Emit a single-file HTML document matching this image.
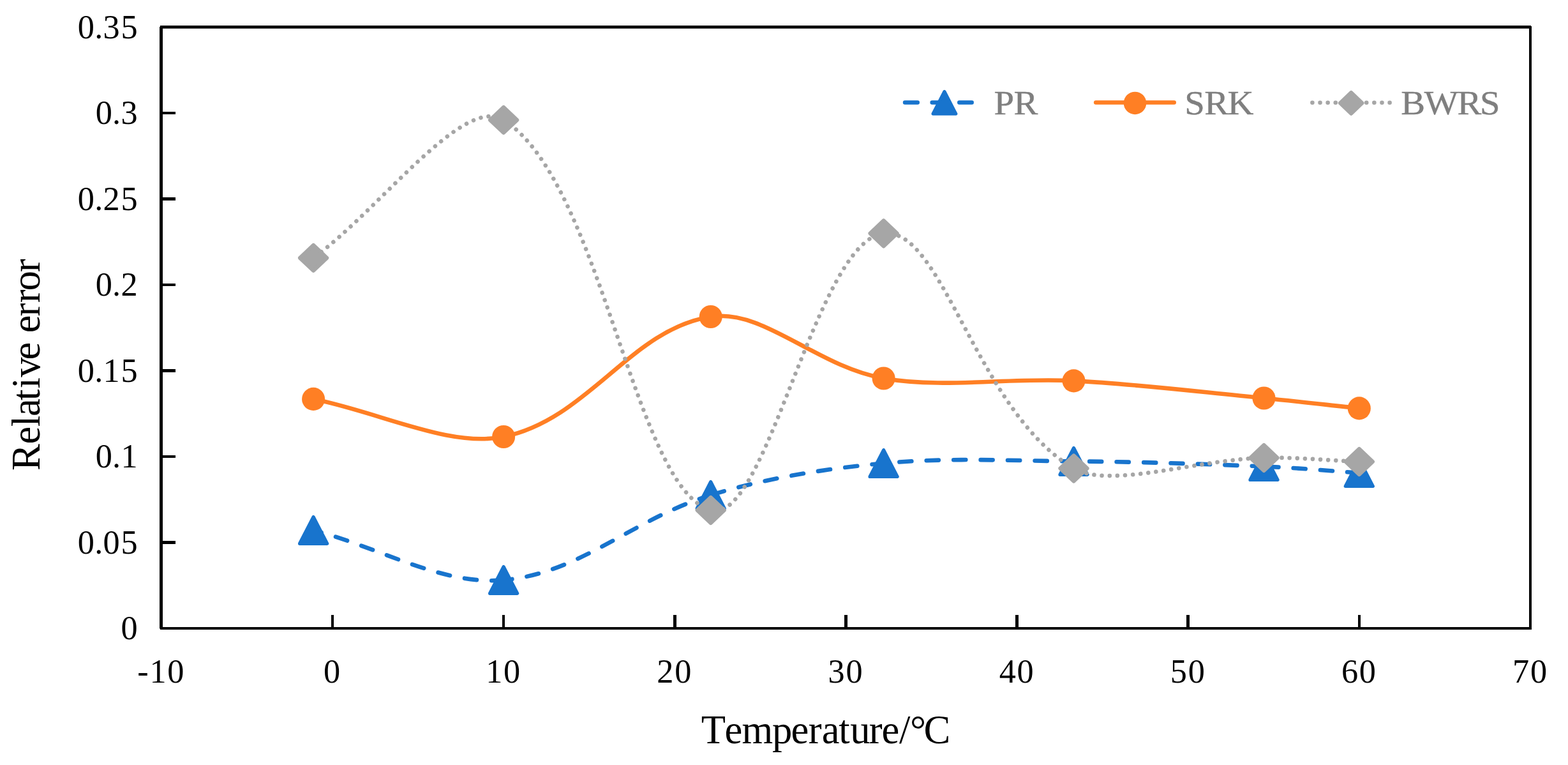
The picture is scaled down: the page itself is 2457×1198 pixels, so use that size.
<!DOCTYPE html>
<html lang="en"><head><meta charset="utf-8"><title>Relative error vs Temperature</title>
<style>
html,body{margin:0;padding:0;background:#FFFFFF;}
body{width:2457px;height:1198px;overflow:hidden;}
svg{display:block;}
svg text{font-family:"Liberation Serif","DejaVu Serif",serif;font-kerning:none;white-space:pre;}
</style></head><body>
<svg width="2457" height="1198" viewBox="0 0 2457 1198">
<rect x="0" y="0" width="2457" height="1198" fill="#FFFFFF"/>
<g fill="#000">
<rect x="250" y="42" width="5" height="942.5"/>
<rect x="251" y="40" width="2148" height="4.7"/>
<rect x="2396" y="41" width="4" height="945"/>
<rect x="251" y="982" width="2149" height="4"/>
<rect x="255" y="175" width="20" height="4"/>
<rect x="255" y="309" width="20" height="5"/>
<rect x="255" y="444" width="20" height="4"/>
<rect x="255" y="578" width="20" height="5"/>
<rect x="255" y="713" width="20" height="4"/>
<rect x="255" y="847" width="20" height="5"/>
<rect x="519" y="963" width="4" height="19"/>
<rect x="787" y="963" width="4" height="19"/>
<rect x="1055" y="963" width="5" height="19"/>
<rect x="1323" y="963" width="5" height="19"/>
<rect x="1591" y="963" width="5" height="19"/>
<rect x="1859" y="963" width="5" height="19"/>
<rect x="2128" y="963" width="4" height="19"/>
</g>
<g font-size="52.3" fill="#000">
<text x="189.47" y="1001.2">0</text>
<text x="121.78 148.21 161.58 189.48" y="866.7">0.05</text>
<text x="149.68 176.11 189.48" y="732.2">0.1</text>
<text x="121.78 148.21 161.58 189.48" y="597.7">0.15</text>
<text x="149.68 176.11 189.48" y="463.2">0.2</text>
<text x="121.78 148.21 161.58 189.48" y="328.7">0.25</text>
<text x="149.68 176.11 189.48" y="194.2">0.3</text>
<text x="121.78 148.21 161.58 189.48" y="59.7">0.35</text>
<text x="215.34 234.43 262.32" y="1068.6">-10</text>
<text x="507.03" y="1068.6">0</text>
<text x="761.23 789.12" y="1068.6">10</text>
<text x="1029.37 1057.27" y="1068.6">20</text>
<text x="1297.52 1325.42" y="1068.6">30</text>
<text x="1565.67 1593.57" y="1068.6">40</text>
<text x="1833.82 1861.72" y="1068.6">50</text>
<text x="2101.97 2129.87" y="1068.6">60</text>
<text x="2370.12 2398.02" y="1068.6">70</text>
</g>
<text x="1098.7 1135.45 1162.6 1209.9 1239.55 1266.75 1287.8 1314.2 1332.2 1361.85 1381.55 1409.1 1425.9 1447.5" y="1164.1" font-size="62.6" fill="#000">Temperature/°C</text>
<text transform="translate(61.9,736.9) rotate(-90)" x="0 41.5 68.75 84.8 110 128.5 146.1 173.5 198.55 215.6 241.45 262.55 281.4 310.65" y="0" font-size="62.6" fill="#000">Relative error</text>
<g fill="none" stroke="#1874CD" stroke-width="6.6" stroke-linecap="round" stroke-dasharray="19.1 23.4">
<path stroke-dashoffset="6.15" d="M491.1 830.4C595.22 857.65 692.74 916.91 789.1 908.4"/>
<path stroke-dashoffset="5.85" d="M789.1 908.4C910.28 897.7 989.83 813.45 1113.7 775.4"/>
<path stroke-dashoffset="-2.85" d="M1113.7 775.4C1197.89 749.54 1286.54 734.64 1384.6 725.5"/>
<path stroke-dashoffset="-24.75" d="M1384.6 725.5C1485.28 716.12 1578.48 721.53 1682.5 722.4"/>
<path stroke-dashoffset="-24.55" d="M1682.5 722.4C1786.69 723.27 1876.66 726.3 1980.5 730.5"/>
<path stroke-dashoffset="-3.65" d="M1980.5 730.5C2032.95 732.62 2077.63 737.01 2129.8 740.5"/>
</g>
<polygon points="491.1,809.5 512.65,851.3 469.55,851.3" fill="#1874CD" stroke="#1874CD" stroke-width="5.2" stroke-linejoin="round"/>
<polygon points="789.1,887.5 810.65,929.3 767.55,929.3" fill="#1874CD" stroke="#1874CD" stroke-width="5.2" stroke-linejoin="round"/>
<polygon points="1113.7,754.5 1135.25,796.3 1092.15,796.3" fill="#1874CD" stroke="#1874CD" stroke-width="5.2" stroke-linejoin="round"/>
<polygon points="1384.6,704.6 1406.15,746.4 1363.05,746.4" fill="#1874CD" stroke="#1874CD" stroke-width="5.2" stroke-linejoin="round"/>
<polygon points="1682.5,701.5 1704.05,743.3 1660.95,743.3" fill="#1874CD" stroke="#1874CD" stroke-width="5.2" stroke-linejoin="round"/>
<polygon points="1980.5,709.6 2002.05,751.4 1958.95,751.4" fill="#1874CD" stroke="#1874CD" stroke-width="5.2" stroke-linejoin="round"/>
<polygon points="2129.8,719.6 2151.35,761.4 2108.25,761.4" fill="#1874CD" stroke="#1874CD" stroke-width="5.2" stroke-linejoin="round"/>
<path d="M491.10 624.90 C595.22 645.55 704.73 701.47 789.10 684.00 C922.27 656.43 988.58 515.22 1113.70 496.00 C1196.65 483.25 1279.06 573.87 1384.60 592.50 C1477.80 608.95 1579.31 591.03 1682.50 596.40 C1787.52 601.86 1876.60 613.51 1980.50 623.50 C2032.89 628.54 2077.63 633.84 2129.80 639.40" fill="none" stroke="#FF7F24" stroke-width="6.6" stroke-linecap="round"/>
<circle cx="491.1" cy="624.9" r="18.05" fill="#FF7F24"/>
<circle cx="789.1" cy="684" r="18.05" fill="#FF7F24"/>
<circle cx="1113.7" cy="496" r="18.05" fill="#FF7F24"/>
<circle cx="1384.6" cy="592.5" r="18.05" fill="#FF7F24"/>
<circle cx="1682.5" cy="596.4" r="18.05" fill="#FF7F24"/>
<circle cx="1980.5" cy="623.5" r="18.05" fill="#FF7F24"/>
<circle cx="2129.8" cy="639.4" r="18.05" fill="#FF7F24"/>
<g fill="none" stroke="#A6A6A6" stroke-width="6.6" stroke-linecap="round" stroke-dasharray="0.01 12.14">
<path stroke-dashoffset="8.51" d="M491.1 403.9C595.22 328.43 725.77 147.71 789.1 187.9"/>
<path stroke-dashoffset="11.71" d="M789.1 187.9C943.31 285.76 992.56 762.87 1113.7 799"/>
<path stroke-dashoffset="3.96" d="M1113.7 799C1200.63 824.93 1278.45 377.72 1384.6 365.5"/>
<path stroke-dashoffset="0.1" d="M1384.6 365.5C1477.19 354.84 1529.89 643.48 1682.5 733.5"/>
<path stroke-dashoffset="2.65" d="M1682.5 733.5C1738.1 766.3 1876.27 719.45 1980.5 717"/>
<path stroke-dashoffset="8.55" d="M1980.5 717C2032.56 715.78 2077.63 720.9 2129.8 723"/>
</g>
<polygon points="491.1,384 512.15,403.9 491.1,423.8 470.05,403.9" fill="#A6A6A6" stroke="#A6A6A6" stroke-width="6.2" stroke-linejoin="round"/>
<polygon points="789.1,168 810.15,187.9 789.1,207.8 768.05,187.9" fill="#A6A6A6" stroke="#A6A6A6" stroke-width="6.2" stroke-linejoin="round"/>
<polygon points="1113.7,779.1 1134.75,799 1113.7,818.9 1092.65,799" fill="#A6A6A6" stroke="#A6A6A6" stroke-width="6.2" stroke-linejoin="round"/>
<polygon points="1384.6,345.6 1405.65,365.5 1384.6,385.4 1363.55,365.5" fill="#A6A6A6" stroke="#A6A6A6" stroke-width="6.2" stroke-linejoin="round"/>
<polygon points="1682.5,713.6 1703.55,733.5 1682.5,753.4 1661.45,733.5" fill="#A6A6A6" stroke="#A6A6A6" stroke-width="6.2" stroke-linejoin="round"/>
<polygon points="1980.5,697.1 2001.55,717 1980.5,736.9 1959.45,717" fill="#A6A6A6" stroke="#A6A6A6" stroke-width="6.2" stroke-linejoin="round"/>
<polygon points="2129.8,703.1 2150.85,723 2129.8,742.9 2108.75,723" fill="#A6A6A6" stroke="#A6A6A6" stroke-width="6.2" stroke-linejoin="round"/>
<path d="M1418.1 160.5 H1522.7" fill="none" stroke="#1874CD" stroke-width="6.6" stroke-linecap="round" stroke-dasharray="19.6 23"/>
<polygon points="1479.9,143.5 1497.75,178.1 1462.05,178.1" fill="#1874CD" stroke="#1874CD" stroke-width="5.2" stroke-linejoin="round"/>
<path d="M1717.2 160.5 H1839.7" fill="none" stroke="#FF7F24" stroke-width="6.6" stroke-linecap="round"/>
<circle cx="1778.5" cy="161.4" r="17.75" fill="#FF7F24"/>
<path d="M2056.4 160.8 H2178" fill="none" stroke="#A6A6A6" stroke-width="6.6" stroke-linecap="round" stroke-dasharray="0.01 12.11"/>
<polygon points="2117.2,144.85 2134.45,161.4 2117.2,177.95 2099.95,161.4" fill="#A6A6A6" stroke="#A6A6A6" stroke-width="6" stroke-linejoin="round"/>
<g font-size="53.0" fill="#7F7F7F" stroke="#7F7F7F" stroke-width="0.4" transform="scale(1.07,1)">
<text x="1455.51 1484.49" y="178.7">PR</text>
<text x="1734.72 1763.83 1797.57" y="178.7">SRK</text>
<text x="2051.68 2085.79 2134.02 2167.38" y="178.7">BWRS</text>
</g>
</svg>
</body></html>
